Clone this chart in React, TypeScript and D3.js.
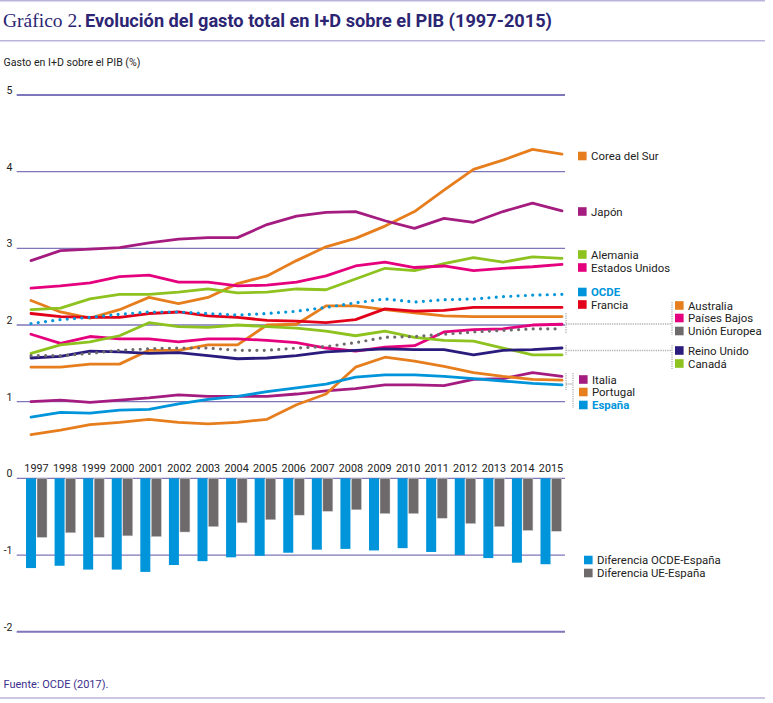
import React from "react";
import * as d3 from "d3";

// Años
const years = [1997, 1998, 1999, 2000, 2001, 2002, 2003, 2004, 2005, 2006, 2007, 2008, 2009, 2010, 2011, 2012, 2013, 2014, 2015];

// Gasto en I+D sobre el PIB (%)
const corea = [2.32, 2.17, 2.09, 2.2, 2.36, 2.28, 2.36, 2.54, 2.64, 2.84, 3.02, 3.13, 3.29, 3.48, 3.76, 4.03, 4.15, 4.29, 4.23];
const japon = [2.84, 2.97, 2.99, 3.01, 3.07, 3.12, 3.14, 3.14, 3.31, 3.42, 3.47, 3.48, 3.36, 3.26, 3.39, 3.34, 3.48, 3.59, 3.49];
const alemania = [2.2, 2.22, 2.34, 2.4, 2.4, 2.43, 2.47, 2.42, 2.43, 2.47, 2.46, 2.6, 2.74, 2.71, 2.8, 2.88, 2.82, 2.89, 2.87];
const eeuu = [2.48, 2.51, 2.55, 2.63, 2.65, 2.56, 2.56, 2.51, 2.52, 2.56, 2.64, 2.77, 2.82, 2.75, 2.77, 2.71, 2.74, 2.76, 2.79];
const ocde = [2.02, 2.07, 2.1, 2.14, 2.17, 2.17, 2.15, 2.13, 2.15, 2.18, 2.23, 2.29, 2.34, 2.3, 2.33, 2.34, 2.37, 2.39, 2.4];
const francia = [2.15, 2.11, 2.1, 2.1, 2.15, 2.17, 2.12, 2.1, 2.06, 2.05, 2.03, 2.07, 2.21, 2.18, 2.19, 2.23, 2.23, 2.23, 2.23];
const australia = [1.45, 1.45, 1.49, 1.49, 1.67, 1.67, 1.74, 1.74, 2.0, 2.01, 2.25, 2.25, 2.2, 2.16, 2.12, 2.11, 2.11, 2.11, 2.11];
const paisesBajos = [1.88, 1.76, 1.85, 1.82, 1.82, 1.78, 1.82, 1.82, 1.8, 1.77, 1.7, 1.66, 1.71, 1.73, 1.91, 1.94, 1.95, 2.0, 2.01];
const ue = [1.6, 1.6, 1.63, 1.67, 1.69, 1.7, 1.7, 1.67, 1.67, 1.7, 1.72, 1.77, 1.84, 1.85, 1.88, 1.91, 1.93, 1.95, 1.95];
const reinoUnido = [1.57, 1.59, 1.66, 1.65, 1.63, 1.64, 1.6, 1.56, 1.57, 1.6, 1.65, 1.67, 1.69, 1.68, 1.68, 1.61, 1.67, 1.68, 1.7];
const canada = [1.63, 1.74, 1.78, 1.86, 2.03, 1.98, 1.97, 2.0, 1.98, 1.96, 1.92, 1.86, 1.92, 1.84, 1.8, 1.79, 1.7, 1.61, 1.61];
const italia = [1.0, 1.02, 0.99, 1.02, 1.05, 1.09, 1.07, 1.07, 1.07, 1.1, 1.14, 1.17, 1.22, 1.22, 1.21, 1.29, 1.3, 1.38, 1.33];
const espana = [0.8, 0.86, 0.85, 0.89, 0.9, 0.97, 1.03, 1.07, 1.13, 1.18, 1.23, 1.32, 1.35, 1.35, 1.33, 1.3, 1.27, 1.24, 1.22];
const portugal = [0.57, 0.63, 0.7, 0.73, 0.77, 0.73, 0.71, 0.73, 0.77, 0.96, 1.1, 1.45, 1.58, 1.53, 1.46, 1.38, 1.33, 1.29, 1.28];

// Diferencias (barras)
const difOcde = [-1.17, -1.14, -1.19, -1.19, -1.22, -1.13, -1.08, -1.03, -1.01, -0.97, -0.93, -0.92, -0.94, -0.91, -0.96, -1.0, -1.04, -1.1, -1.12];
const difUe = [-0.77, -0.71, -0.77, -0.75, -0.76, -0.7, -0.63, -0.58, -0.54, -0.48, -0.43, -0.41, -0.46, -0.46, -0.52, -0.59, -0.63, -0.68, -0.69];

const yTicks = [5, 4, 3, 2, 1, 0, -1, -2];

const ORANGE = "#e67e1e";
const PURPLE = "#a51c80";
const GREEN = "#8dc21f";
const PINK = "#e5007d";
const BLUE = "#0095da";
const RED = "#e2001a";
const GREY = "#6e6a6b";
const NAVY = "#2a1c7c";
const TITLE = "#2c2573";
const GRID = "#7d76b8";
const FONT = "Roboto, 'Liberation Sans', sans-serif";

const series = [
  { name: "Corea del Sur", values: corea, color: ORANGE },
  { name: "Japón", values: japon, color: PURPLE },
  { name: "Alemania", values: alemania, color: GREEN },
  { name: "Estados Unidos", values: eeuu, color: PINK },
  { name: "Australia", values: australia, color: ORANGE },
  { name: "Países Bajos", values: paisesBajos, color: PINK },
  { name: "Canadá", values: canada, color: GREEN },
  { name: "Reino Unido", values: reinoUnido, color: NAVY },
  { name: "Francia", values: francia, color: RED },
  { name: "Italia", values: italia, color: PURPLE },
  { name: "Portugal", values: portugal, color: ORANGE },
  { name: "España", values: espana, color: BLUE },
  { name: "Unión Europea", values: ue, color: GREY, dotted: true },
  { name: "OCDE", values: ocde, color: BLUE, dotted: true },
];

// legend layout (label, colour, x, y)
const legend = [
  { label: "Corea del Sur", color: ORANGE, x: 578, y: 156 },
  { label: "Japón", color: PURPLE, x: 578, y: 211.5 },
  { label: "Alemania", color: GREEN, x: 578, y: 254.5 },
  { label: "Estados Unidos", color: PINK, x: 578, y: 267.5 },
  { label: "OCDE", color: BLUE, x: 578, y: 292, bold: true },
  { label: "Francia", color: RED, x: 578, y: 304.5 },
  { label: "Australia", color: ORANGE, x: 675, y: 305.5 },
  { label: "Países Bajos", color: PINK, x: 675, y: 318 },
  { label: "Unión Europea", color: GREY, x: 675, y: 331 },
  { label: "Reino Unido", color: NAVY, x: 675, y: 350.5 },
  { label: "Canadá", color: GREEN, x: 675, y: 363.5 },
  { label: "Italia", color: PURPLE, x: 579, y: 379.5 },
  { label: "Portugal", color: ORANGE, x: 579, y: 392 },
  { label: "España", color: BLUE, x: 579, y: 405, bold: true },
  { label: "Diferencia OCDE-España", color: BLUE, x: 584, y: 560 },
  { label: "Diferencia UE-España", color: GREY, x: 584, y: 573 },
];

export default function App() {
  const width = 773;
  const height = 703;

  const y = d3.scaleLinear().domain([-2, 5]).range([631.7, 95]);
  const xLine = d3.scalePoint<number>().domain(years).range([31, 562]);
  const xBar = d3.scalePoint<number>().domain(years).range([36.5, 551]);

  const lineGen = d3
    .line<number>()
    .x((_, i) => xLine(years[i]) as number)
    .y((d) => y(d));

  const bracket = { stroke: "#b3b3b3", strokeWidth: 1.3, strokeDasharray: "1.3 1", fill: "none" };

  return (
    <div style={{ position: "absolute", left: 0, top: 0 }}>
      <svg width={width} height={height} style={{ display: "block", background: "#fff" }}>
        {/* header */}
        <line x1={0} x2={765} y1={0.8} y2={0.8} stroke="#b9b4da" strokeWidth={1.5} />
        <text x={3} y={27} fontFamily="'Liberation Serif', serif" fontSize={19.5} fill={TITLE}>
          Gráfico 2.
        </text>
        <text
          x={85}
          y={27}
          fontFamily={FONT}
          fontWeight="bold"
          fontSize={17.5}
          fill={TITLE}
          textLength={467}
          lengthAdjust="spacingAndGlyphs"
        >
          Evolución del gasto total en I+D sobre el PIB (1997-2015)
        </text>
        <line x1={0} x2={765} y1={40.7} y2={40.7} stroke="#b9b4da" strokeWidth={1.5} />
        <text x={3.5} y={66} fontFamily={FONT} fontSize={10.6} fill="#222">
          Gasto en I+D sobre el PIB (%)
        </text>

        {/* grid + y labels */}
        {yTicks.map((t) => (
          <g key={t}>
            <line
              x1={16.7}
              x2={565}
              y1={y(t)}
              y2={y(t)}
              stroke={GRID}
              strokeWidth={t === 5 || t === -2 ? 2 : 1.3}
            />
            <text x={12.5} y={y(t) - 1} textAnchor="end" fontFamily={FONT} fontSize={10.5} fill="#222">
              {t}
            </text>
          </g>
        ))}

        {/* bars */}
        {years.map((yr, i) => {
          const c = xBar(yr) as number;
          return (
            <g key={yr}>
              <rect x={c - 10.5} y={y(0)} width={10} height={y(difOcde[i]) - y(0)} fill={BLUE} />
              <rect x={c + 0.5} y={y(0)} width={10} height={y(difUe[i]) - y(0)} fill={GREY} stroke="#cfcfcf" strokeWidth={0.5} />
              <text x={c} y={471.5} textAnchor="middle" fontFamily={FONT} fontSize={10.8} fill="#222">
                {yr}
              </text>
            </g>
          );
        })}

        {/* lines */}
        {series.map((s) => (
          <path
            key={s.name}
            d={lineGen(s.values) as string}
            fill="none"
            stroke={s.color}
            strokeWidth={s.dotted ? 3.2 : 2.8}
            strokeLinecap="round"
            strokeLinejoin="round"
            strokeDasharray={s.dotted ? "0 7.3" : undefined}
          />
        ))}

        {/* brackets */}
        <path d="M566,313V334M566,324H672M672,302V335" {...bracket} />
        <path d="M566,345V355M566,350.5H672M672,345V369" {...bracket} />
        <path d="M566,373V390M566,384H573M573,373V408" {...bracket} />

        {/* legend */}
        {legend.map((l) => (
          <g key={l.label}>
            <rect x={l.x} y={l.y - 4.3} width={8.6} height={8.6} fill={l.color} />
            <text
              x={l.x + 13}
              y={l.y + 4}
              fontFamily={FONT}
              fontSize={11.4}
              fontWeight={l.bold ? "bold" : "normal"}
              fill={l.bold ? BLUE : "#222"}
            >
              {l.label}
            </text>
          </g>
        ))}

        {/* footer */}
        <text x={3.5} y={688} fontFamily={FONT} fontSize={11} fill="#3c2f8c">
          Fuente: OCDE (2017).
        </text>
        <line x1={0} x2={765} y1={698} y2={698} stroke="#cbc7e3" strokeWidth={2} />
      </svg>
    </div>
  );
}
